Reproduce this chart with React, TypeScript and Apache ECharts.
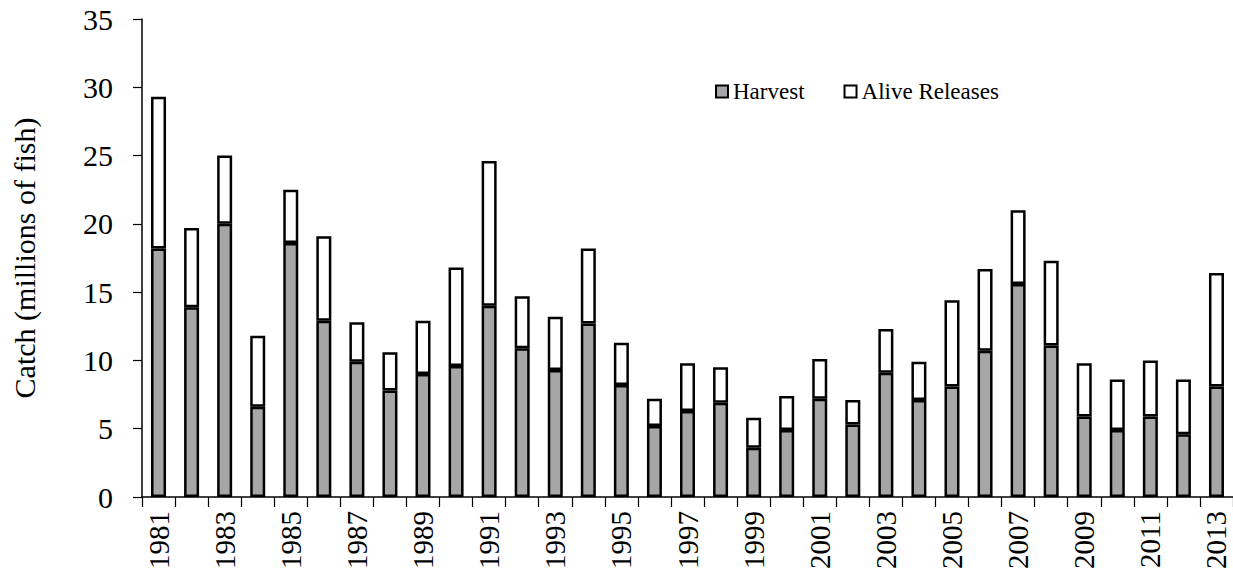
import React, { useEffect, useRef } from "react";
import * as echarts from "echarts";

const years = [
  "1981", "1982", "1983", "1984", "1985", "1986", "1987", "1988", "1989", "1990",
  "1991", "1992", "1993", "1994", "1995", "1996", "1997", "1998", "1999", "2000",
  "2001", "2002", "2003", "2004", "2005", "2006", "2007", "2008", "2009", "2010",
  "2011", "2012", "2013",
];

const harvest = [
  18.2, 13.9, 20.0, 6.6, 18.6, 12.9, 9.9, 7.8, 9.0, 9.6,
  14.0, 10.9, 9.3, 12.7, 8.2, 5.2, 6.3, 6.9, 3.6, 4.9,
  7.2, 5.3, 9.1, 7.1, 8.1, 10.7, 15.6, 11.1, 5.9, 4.9,
  5.9, 4.6, 8.1,
];

const aliveReleases = [
  11.1, 5.8, 5.0, 5.2, 3.9, 6.2, 2.9, 2.8, 3.9, 7.2,
  10.6, 3.8, 3.9, 5.5, 3.1, 2.0, 3.5, 2.6, 2.2, 2.5,
  2.9, 1.8, 3.2, 2.8, 6.3, 6.0, 5.4, 6.2, 3.9, 3.7,
  4.1, 4.0, 8.3,
];

const FONT = "Liberation Serif";

export default function App() {
  const ref = useRef<HTMLDivElement>(null);

  useEffect(() => {
    if (!ref.current) return;
    const chart = echarts.init(ref.current, undefined, { renderer: "svg" });
    chart.setOption({
      animation: false,
      backgroundColor: "#ffffff",
      textStyle: { fontFamily: FONT, color: "#000" },
      grid: { left: 142, right: 0, top: 19, bottom: 84, containLabel: false },
      legend: {
        left: 710,
        top: 75,
        itemWidth: 12,
        itemHeight: 12,
        itemGap: 39,
        icon: "rect",
        textStyle: { fontFamily: FONT, fontSize: 23, color: "#000" },
        data: ["Harvest", "Alive Releases"],
      },
      xAxis: {
        type: "category",
        data: years,
        boundaryGap: true,
        axisLine: { show: true, lineStyle: { color: "#000", width: 1.5 } },
        axisTick: {
          show: true,
          interval: 0,
          alignWithLabel: false,
          length: 10,
          lineStyle: { color: "#000", width: 1.2 },
        },
        axisLabel: {
          interval: 1,
          rotate: 90,
          margin: 14,
          fontFamily: FONT,
          fontSize: 29,
          color: "#000",
        },
        splitLine: { show: false },
      },
      yAxis: {
        type: "value",
        min: 0,
        max: 35,
        interval: 5,
        name: "Catch (millions of fish)",
        nameLocation: "middle",
        nameRotate: 90,
        nameGap: 103,
        nameTextStyle: { fontFamily: FONT, fontSize: 30, color: "#000" },
        axisLine: { show: true, lineStyle: { color: "#000", width: 1.5 } },
        axisTick: { show: true, inside: false, length: 9, lineStyle: { color: "#000", width: 1.2 } },
        axisLabel: { margin: 29, fontFamily: FONT, fontSize: 30, color: "#000" },
        splitLine: { show: false },
      },
      series: [
        {
          name: "Harvest",
          type: "bar",
          stack: "catch",
          barWidth: 15,
          data: harvest,
          itemStyle: { color: "#a6a6a6", borderColor: "#000", borderWidth: 2.5 },
        },
        {
          name: "Alive Releases",
          type: "bar",
          stack: "catch",
          barWidth: 15,
          data: aliveReleases,
          itemStyle: { color: "#ffffff", borderColor: "#000", borderWidth: 2.5 },
        },
      ],
    });
    return () => chart.dispose();
  }, []);

  return (
    <div
      ref={ref}
      style={{ position: "fixed", left: 0, top: 0, width: 1233, height: 581, background: "#fff" }}
    />
  );
}
